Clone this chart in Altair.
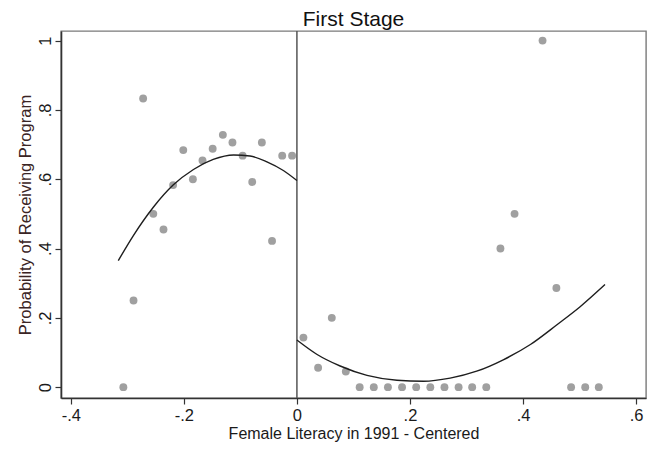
import altair as alt
import pandas as pd

# Binned means
bin_x = [-0.307, -0.289, -0.272, -0.254, -0.236, -0.219, -0.201, -0.184, -0.167,
         -0.149, -0.131, -0.114, -0.096, -0.079, -0.062, -0.044, -0.026, -0.0085,
         0.0115, 0.0375, 0.0617, 0.0865, 0.111, 0.136, 0.161, 0.186, 0.211, 0.236,
         0.261, 0.286, 0.310, 0.335, 0.360, 0.385, 0.4345, 0.459, 0.485, 0.510, 0.534]
bin_y = [0.0, 0.250, 0.833, 0.500, 0.455, 0.583, 0.684, 0.600, 0.654,
         0.688, 0.728, 0.706, 0.668, 0.592, 0.706, 0.422, 0.668, 0.668,
         0.143, 0.056, 0.200, 0.045, 0.0, 0.0, 0.0, 0.0, 0.0, 0.0,
         0.0, 0.0, 0.0, 0.0, 0.400, 0.500, 1.0, 0.286, 0.0, 0.0, 0.0]

# Fitted quadratic curves
left_curve_x = [-0.316, -0.289, -0.254, -0.219, -0.183, -0.148, -0.112, -0.083, -0.053, -0.024, 0.0]
left_curve_y = [0.365, 0.438, 0.519, 0.583, 0.628, 0.657, 0.670, 0.667, 0.650, 0.625, 0.596]
right_curve_x = [0.0, 0.035, 0.0765, 0.124, 0.177, 0.224, 0.271, 0.318, 0.365, 0.413, 0.460, 0.501, 0.545]
right_curve_y = [0.136, 0.095, 0.061, 0.034, 0.020, 0.017, 0.026, 0.046, 0.079, 0.123, 0.180, 0.232, 0.296]

cutoff = [0.0]

chart_title = ["First Stage"]
x_title = "Female Literacy in 1991 - Centered"
y_title = "Probability of Receiving Program"

x_ticks = [-0.4, -0.2, 0.0, 0.2, 0.4, 0.6]
x_tick_labels = ["-.4", "-.2", "0", ".2", ".4", ".6"]
y_ticks = [0.0, 0.2, 0.4, 0.6, 0.8, 1.0]
y_tick_labels = ["0", ".2", ".4", ".6", ".8", "1"]

x_domain = [-0.4173, 0.6175]
y_domain = [-0.0313, 1.0276]

W, H = 585, 367

pts = pd.DataFrame({"x": bin_x, "y": bin_y})
curves = pd.DataFrame({
    "x": left_curve_x + right_curve_x,
    "y": left_curve_y + right_curve_y,
    "side": ["left"] * len(left_curve_x) + ["right"] * len(right_curve_x),
    "order": list(range(len(left_curve_x))) + list(range(len(right_curve_x))),
})
rule_df = pd.DataFrame({"x": cutoff})
title_df = pd.DataFrame({"t": chart_title})


def label_expr(values, labels):
    pairs = ",".join("'%d':'%s'" % (round(v * 10), l) for v, l in zip(values, labels))
    return "{" + pairs + "}['' + round(datum.value * 10)]"


FONT = "Liberation Sans"

xscale = alt.Scale(domain=x_domain, nice=False, zero=False)
yscale = alt.Scale(domain=y_domain, nice=False, zero=False)

xaxis = alt.Axis(values=x_ticks, labelExpr=label_expr(x_ticks, x_tick_labels),
                 title=x_title, grid=False,
                 tickSize=6, labelPadding=3, titlePadding=2, labelFontSize=16.5,
                 titleFontSize=16, titleFontWeight="normal")
yaxis = alt.Axis(values=y_ticks, labelExpr=label_expr(y_ticks, y_tick_labels),
                 title=y_title, grid=False,
                 tickSize=6, labelAngle=270, labelAlign="center",
                 labelBaseline="alphabetic", labelPadding=5, labelFontSize=16.5,
                 titleFontSize=16.5, titleFontWeight="normal",
                 titleX=-28, titleBaseline="bottom", titleColor="#3a2424")

points = alt.Chart(pts).mark_circle(size=62, color="#a0a0a0", opacity=1).encode(
    x=alt.X("x:Q", scale=xscale, axis=xaxis),
    y=alt.Y("y:Q", scale=yscale, axis=yaxis),
)

lines = alt.Chart(curves).mark_line(color="#1e1e1e", strokeWidth=1.4, interpolate="monotone").encode(
    x=alt.X("x:Q", scale=xscale),
    y=alt.Y("y:Q", scale=yscale),
    detail="side:N",
    order="order:Q",
)

rule = alt.Chart(rule_df).mark_rule(color="#555555", strokeWidth=1.5).encode(
    x=alt.X("x:Q", scale=xscale),
)

title_mark = alt.Chart(title_df).mark_text(
    font=FONT, fontSize=21, color="#111111", align="center", baseline="alphabetic"
).encode(
    text="t:N",
    x=alt.value(W / 2),
    y=alt.value(-5),
)

chart = alt.layer(rule, points, lines, title_mark).properties(
    width=W,
    height=H,
    autosize=alt.AutoSizeParams(type="none"),
    padding={"left": 53, "top": 23, "right": 3, "bottom": 45},
).configure_axis(
    labelFont=FONT, titleFont=FONT, labelColor="#1a1a1a", titleColor="#1a1a1a",
    domainColor="#333333", domainWidth=1.6, tickColor="#333333", tickWidth=1.2,
).configure_view(
    stroke="#7a7a7a", strokeWidth=1.4,
)

chart.save("out.html", embed_options={"renderer": "svg", "actions": False})
